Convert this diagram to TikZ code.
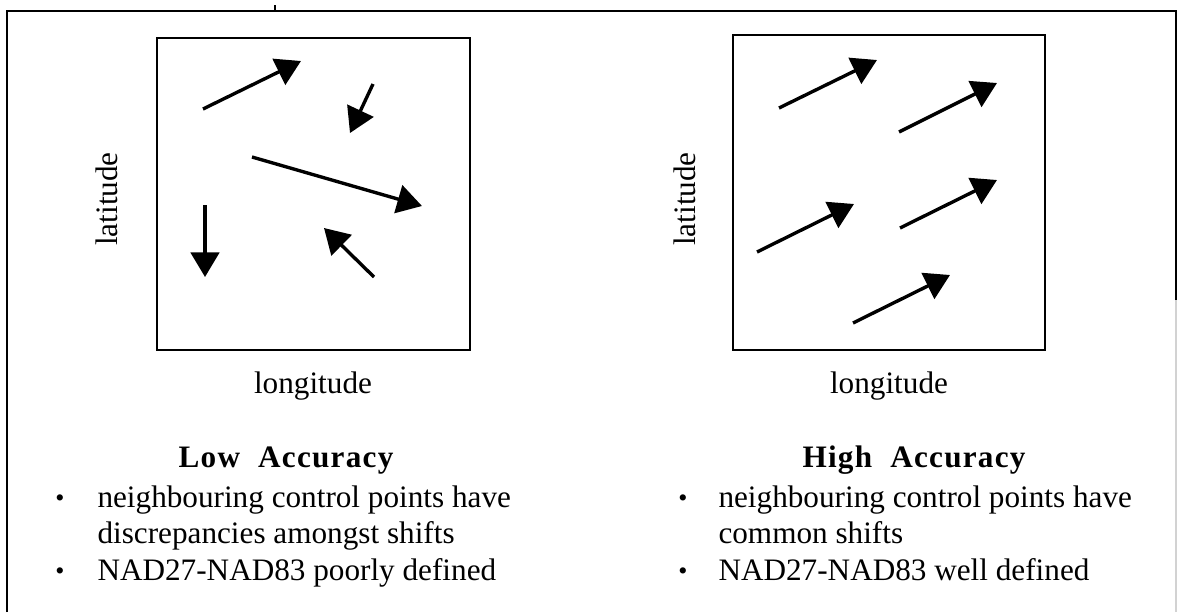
\documentclass[tikz,border=0pt]{standalone}
\usepackage{fontspec}
\setmainfont{Liberation Serif}
\usetikzlibrary{arrows.meta}
\tikzset{
  vec/.style={line width=1.3pt, -{Triangle[length=9.5pt,width=11pt]}},
  plotbox/.style={line width=1.1pt},
  lbl/.style={inner sep=0pt, font=\fontsize{12}{14}\selectfont},
  head/.style={inner sep=0pt, font=\fontsize{12}{14}\selectfont\bfseries\addfontfeature{LetterSpace=4}},
  dot/.style={inner sep=0pt, font=\fontsize{10}{10}\selectfont}
}
\begin{document}
\begin{tikzpicture}[x=0.3845pt, y=-0.3845pt]
      \useasboundingbox (0,0) rectangle (1179,612);
      % outer frame (open at the bottom)
      \draw[line width=0.8pt] (7,612) -- (7,11) -- (1176,11) -- (1176,300);
      \draw[line width=0.4pt, gray!35] (1176,300) -- (1176,612);
      \draw[line width=0.8pt] (275,5) -- (275,11);
      % the two plots
      \draw[plotbox] (157,38) rectangle (470,350);
      \draw[plotbox] (733,35) rectangle (1045,350);
      \begin{scope}[vec]
        \draw (203,109) -- (301,61);
        \draw (373,84) -- (350,133);
        \draw (252,157) -- (422,206);
        \draw (205,205) -- (205,277);
        \draw (374,277) -- (324,228);
      \end{scope}
      \begin{scope}[vec]
        \draw (779,108) -- (877,60);
        \draw (899,132) -- (997,83);
        \draw (757,252) -- (854,204);
        \draw (900,228) -- (997,180);
        \draw (853,323) -- (950,275);
      \end{scope}
      % axis labels
      \node[lbl, rotate=90] (lowlat) at (107,199) {latitude};
      \node[lbl, rotate=90] (highlat) at (685,199) {latitude};
      \node[lbl, anchor=base] (lowlon) at (313,393) {longitude};
      \node[lbl, anchor=base] (highlon) at (889,393) {longitude};
      % captions
      \node[head, anchor=base] (lowhead) at (286,467) {Low\ \ Accuracy};
      \node[head, anchor=base] (highhead) at (914,467) {High\ \ Accuracy};
      \node[dot] (lowdot1) at (60,501) {•};
      \node[lbl, anchor=base west] (lowtxt1) at (97,507) {neighbouring control points have};
      \node[lbl, anchor=base west] (lowtxt2) at (97,543) {discrepancies amongst shifts};
      \node[dot] (lowdot2) at (60,574) {•};
      \node[lbl, anchor=base west] (lowtxt3) at (97,580) {NAD27-NAD83 poorly defined};
      \node[dot] (highdot1) at (683,501) {•};
      \node[lbl, anchor=base west] (hightxt1) at (718,507) {neighbouring control points have};
      \node[lbl, anchor=base west] (hightxt2) at (718,543) {common shifts};
      \node[dot] (highdot2) at (683,574) {•};
      \node[lbl, anchor=base west] (hightxt3) at (718,580) {NAD27-NAD83 well defined};
    \end{tikzpicture}
\end{document}
